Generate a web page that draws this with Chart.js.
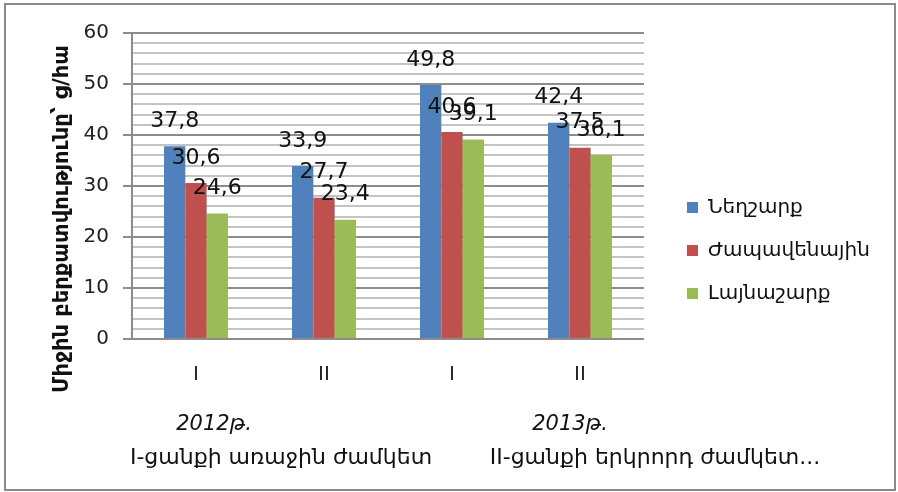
<!DOCTYPE html>
<html>
<head>
<meta charset="utf-8">
<script src="https://cdn.jsdelivr.net/npm/chart.js@4.4.1/dist/chart.umd.min.js"></script>
<style>
  html, body { margin: 0; padding: 0; background: #ffffff; }
  #wrap { width: 898px; height: 492px; position: relative; }
</style>
</head>
<body>
<div id="wrap"><canvas id="yieldChart" width="898" height="492"></canvas></div>
<script>
// Sowing periods (lower level) and series
const categories = ['I', 'II', 'I', 'II'];
const seriesNames = ['Նեղշարք', 'Ժապավենային', 'Լայնաշարք'];
const narrowRow = [37.8, 33.9, 49.8, 42.4];
const ribbonRow = [30.6, 27.7, 40.6, 37.5];
const wideRow = [24.6, 23.4, 39.1, 36.1];

// Upper level of the category axis: one entry per pair of periods
const yearLabels = ['2012թ.', '2013թ.'];
const sowingLabels = ['I-ցանքի առաջին ժամկետ', 'II-ցանքի երկրորդ ժամկետ...'];

// Labelled values on the value axis
const yTickLabels = [0, 10, 20, 30, 40, 50, 60];
const yTitle = 'Միջին բերքատվությունը՝ ց/հա';

const COLORS = ['#4F81BD', '#C0504D', '#9BBB59'];
const FONT = 'DejaVu Sans';
const MAJOR = '#8c8c8c';
const MINOR = '#c4c4c4';

// Legend sizing, so the plot area ends where it should
const LEGEND_FONT = 20, LEGEND_PAD = 23, LEGEND_BOX = 11, GAP_AXIS_W = 20;
const measureCtx = document.createElement('canvas').getContext('2d');
measureCtx.font = LEGEND_FONT + 'px "' + FONT + '"';
const maxLegendText = Math.max(...seriesNames.map(s => measureCtx.measureText(s).width));
const legendWidth = LEGEND_PAD + LEGEND_BOX + LEGEND_FONT / 2 + maxLegendText + 10;
const rightPad = Math.max(0, 898 - 644 - GAP_AXIS_W - legendWidth);

const fmt = v => String(v).replace('.', ',');

const decorations = {
  id: 'decorations',
  beforeDraw(chart) {
    const ctx = chart.ctx;
    ctx.save();
    ctx.fillStyle = '#ffffff';
    ctx.fillRect(0, 0, chart.width, chart.height);
    ctx.strokeStyle = '#8a8a8a';
    ctx.lineWidth = 2;
    ctx.strokeRect(5, 4, 890, 486);
    ctx.restore();
  },
  afterDatasetsDraw(chart) {
    const ctx = chart.ctx;
    ctx.save();
    ctx.fillStyle = '#111111';
    ctx.font = '22px "' + FONT + '"';
    ctx.textAlign = 'center';
    ctx.textBaseline = 'middle';
    chart.data.datasets.forEach((ds, i) => {
      chart.getDatasetMeta(i).data.forEach((bar, j) => {
        ctx.fillText(fmt(ds.data[j]), bar.x, bar.y - 25);
      });
    });
    ctx.restore();
  },
  afterDraw(chart) {
    const ctx = chart.ctx;
    const area = chart.chartArea;
    const xs = chart.scales.x;
    ctx.save();
    ctx.fillStyle = '#111111';
    ctx.textBaseline = 'middle';
    ctx.textAlign = 'center';

    // value axis title
    ctx.save();
    ctx.translate(area.left - 69, area.top + 186);
    ctx.rotate(-Math.PI / 2);
    ctx.font = 'bold 21px "' + FONT + '"';
    ctx.fillText(yTitle, 0, 0);
    ctx.restore();

    // upper category level
    const yearDx = [-46, 54];
    const sowDx = [21, 139];
    yearLabels.forEach((lab, g) => {
      const c = (xs.getPixelForValue(2 * g) + xs.getPixelForValue(2 * g + 1)) / 2;
      ctx.font = 'italic 21px "' + FONT + '"';
      ctx.fillText(lab, c + yearDx[g], area.bottom + 86);
      ctx.font = '22px "' + FONT + '"';
      ctx.fillText(sowingLabels[g], c + sowDx[g], area.bottom + 119);
    });
    ctx.restore();
  }
};

new Chart(document.getElementById('yieldChart'), {
  type: 'bar',
  data: {
    labels: categories,
    datasets: [
      { label: seriesNames[0], data: narrowRow, backgroundColor: COLORS[0], borderWidth: 0 },
      { label: seriesNames[1], data: ribbonRow, backgroundColor: COLORS[1], borderWidth: 0 },
      { label: seriesNames[2], data: wideRow, backgroundColor: COLORS[2], borderWidth: 0 }
    ]
  },
  options: {
    responsive: false,
    animation: false,
    devicePixelRatio: 1,
    layout: { padding: { left: 0, top: 33, right: rightPad, bottom: 24 } },
    datasets: { bar: { categoryPercentage: 0.5, barPercentage: 1.0 } },
    scales: {
      x: {
        grid: { display: false, drawTicks: false },
        border: { display: false },
        ticks: { padding: 24, color: '#222222', font: { family: FONT, size: 20 } },
        afterFit: s => { s.height = 129; }
      },
      y: {
        min: 0,
        max: 60,
        ticks: {
          stepSize: 2,
          autoSkip: false,
          padding: 14,
          color: '#222222',
          font: { family: FONT, size: 20 },
          callback: v => (yTickLabels.includes(v) ? String(v) : '')
        },
        grid: {
          color: c => (c.tick && yTickLabels.includes(c.tick.value) ? MAJOR : MINOR),
          tickColor: c => (c.tick && yTickLabels.includes(c.tick.value) ? MAJOR : 'rgba(0,0,0,0)'),
          lineWidth: 2,
          tickWidth: 2,
          tickLength: 9
        },
        border: { display: true, color: MAJOR, width: 2 },
        afterFit: s => { s.width = 132; }
      },
      gap: {
        position: 'right',
        display: true,
        grid: { display: false, drawTicks: false },
        border: { display: false },
        ticks: { display: false },
        afterFit: s => { s.width = GAP_AXIS_W; }
      }
    },
    plugins: {
      legend: {
        position: 'right',
        maxWidth: 600,
        labels: {
          boxWidth: LEGEND_BOX,
          boxHeight: LEGEND_BOX,
          padding: LEGEND_PAD,
          color: '#111111',
          font: { family: FONT, size: LEGEND_FONT }
        }
      },
      tooltip: { enabled: false }
    }
  },
  plugins: [decorations]
});
</script>
</body>
</html>
